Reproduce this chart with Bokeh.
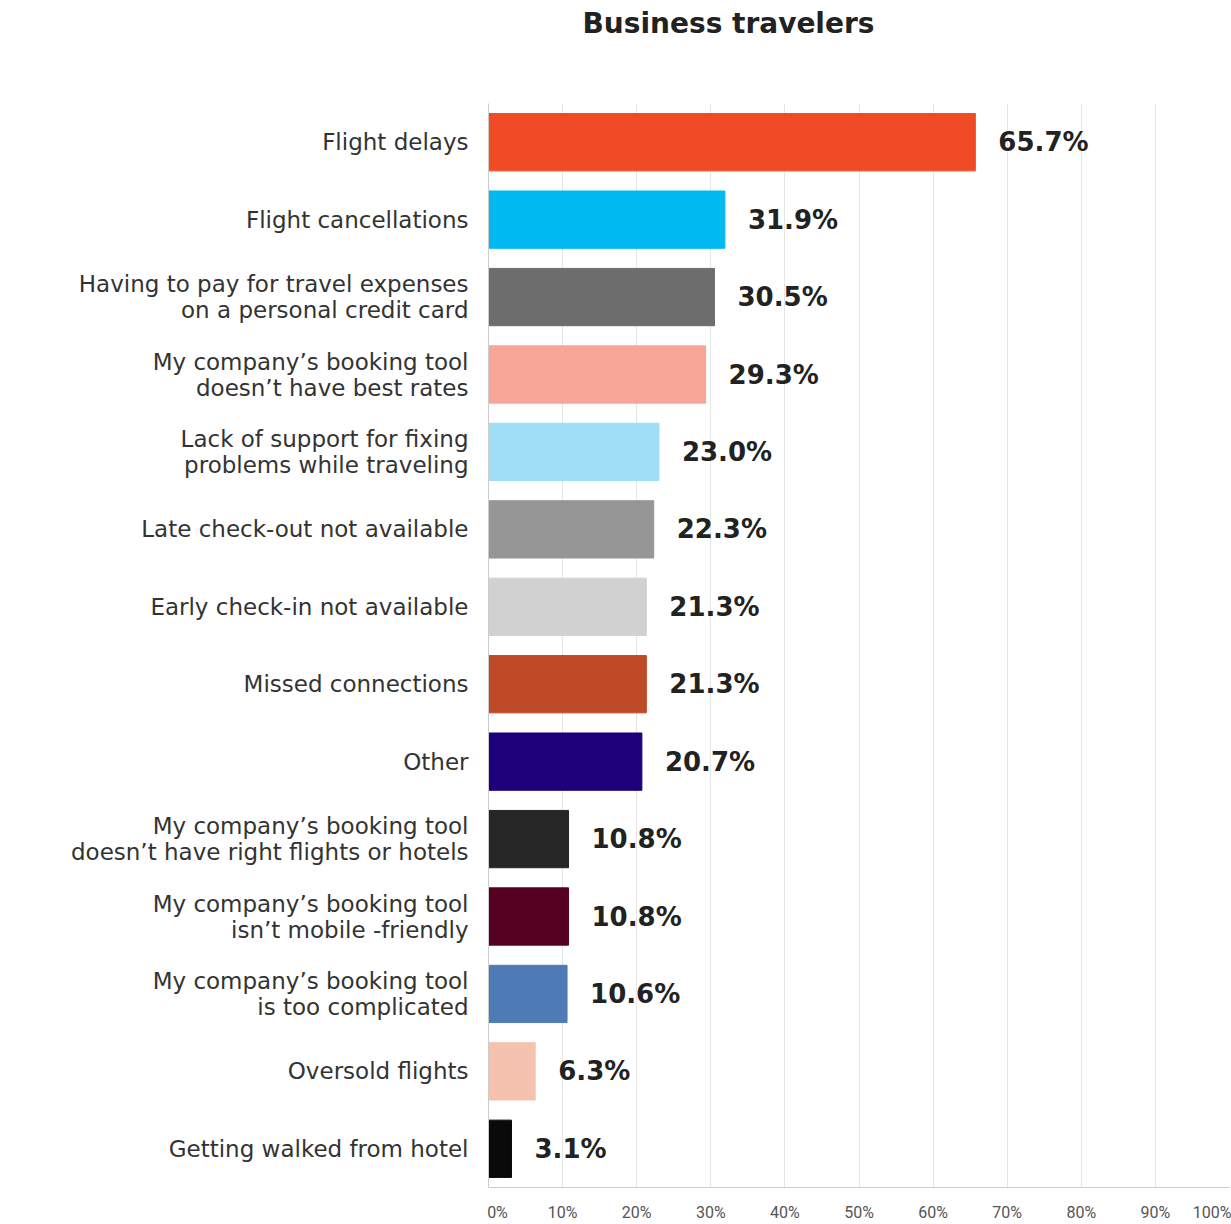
from bokeh.plotting import figure
from bokeh.models import FixedTicker, ColumnDataSource, Range1d, FactorRange, Title
from bokeh.core.properties import value
from bokeh.embed import file_html
from bokeh.resources import INLINE

title_text = "Business travelers"

categories = [
    "Flight delays",
    "Flight cancellations",
    "Having to pay for travel expenses\non a personal credit card",
    "My company\u2019s booking tool\ndoesn\u2019t have best rates",
    "Lack of support for fixing\nproblems while traveling",
    "Late check-out not available",
    "Early check-in not available",
    "Missed connections",
    "Other",
    "My company\u2019s booking tool\ndoesn\u2019t have right flights or hotels",
    "My company\u2019s booking tool\nisn\u2019t mobile -friendly",
    "My company\u2019s booking tool\nis too complicated",
    "Oversold flights",
    "Getting walked from hotel",
]
values = [65.7, 31.9, 30.5, 29.3, 23.0, 22.3, 21.3, 21.3, 20.7, 10.8, 10.8, 10.6, 6.3, 3.1]
value_labels = ["65.7%", "31.9%", "30.5%", "29.3%", "23.0%", "22.3%", "21.3%", "21.3%",
                "20.7%", "10.8%", "10.8%", "10.6%", "6.3%", "3.1%"]
colors = ["#EF4B24", "#00B9F1", "#6D6D6D", "#F6A597", "#A0DEF5", "#969696", "#D1D1D1",
          "#BF4A27", "#1E007A", "#262626", "#550022", "#4E7BB5", "#F5C2AF", "#0A0A0A"]
tick_values = [0, 10, 20, 30, 40, 50, 60, 70, 80, 90, 100]
tick_labels = ["0%", "10%", "20%", "30%", "40%", "50%", "60%", "70%", "80%", "90%", "100%"]

FONT = "DejaVu Sans"
TICK_FONT = "Roboto"
PAD = "\u2007"

src = ColumnDataSource(dict(cat=categories, val=values, lab=value_labels, color=colors))

p = figure(
    y_range=FactorRange(factors=categories[::-1]),
    x_range=Range1d(0, 100),
    width=1231, height=1224,
    output_backend="svg", toolbar_location=None,
    min_border_left=488, min_border_right=2, min_border_top=103, min_border_bottom=37,
)
p.outline_line_color = None
p.background_fill_color = "white"
p.border_fill_color = "white"

# title: two empty trailing lines keep it near the top of the page
p.add_layout(Title(text=title_text + "\n\n", align="left", offset=94, standoff=0,
                   vertical_align="bottom", text_line_height=0.96,
                   text_font=FONT, text_font_style="bold", text_font_size="28px",
                   text_color="#222222"), "above")

p.hbar(y="cat", left=0, right="val", height=0.74, color="color", source=src)
p.text(x="val", y="cat", text="lab", source=src, x_offset=23,
       text_baseline="middle", text_align="left",
       text_font=value(FONT), text_font_style="bold", text_font_size="26px",
       text_color="#222222")

# x axis (first label nudged to sit inside the frame, like the reference)
p.xaxis.ticker = FixedTicker(ticks=tick_values)
overrides = {v: l for v, l in zip(tick_values, tick_labels)}
overrides[tick_values[0]] = PAD * 2 + tick_labels[0]
p.xaxis.major_label_overrides = overrides
p.xaxis.major_tick_line_color = None
p.xaxis.minor_tick_line_color = None
p.xaxis.axis_line_color = "#cccccc"
p.xaxis.major_label_text_font = TICK_FONT
p.xaxis.major_label_text_font_size = "16px"
p.xaxis.major_label_text_color = "#555555"
p.xaxis.major_label_standoff = 9

p.xgrid.grid_line_color = "#e6e6e6"
p.ygrid.grid_line_color = None

# y axis
p.yaxis.major_tick_line_color = None
p.yaxis.minor_tick_line_color = None
p.yaxis.axis_line_color = "#cccccc"
p.yaxis.major_label_text_font = FONT
p.yaxis.major_label_text_font_size = "23px"
p.yaxis.major_label_text_color = "#333333"
p.yaxis.major_label_text_line_height = 1.0
p.yaxis.major_label_standoff = 14

open("out.html", "w").write(file_html(p, INLINE))
